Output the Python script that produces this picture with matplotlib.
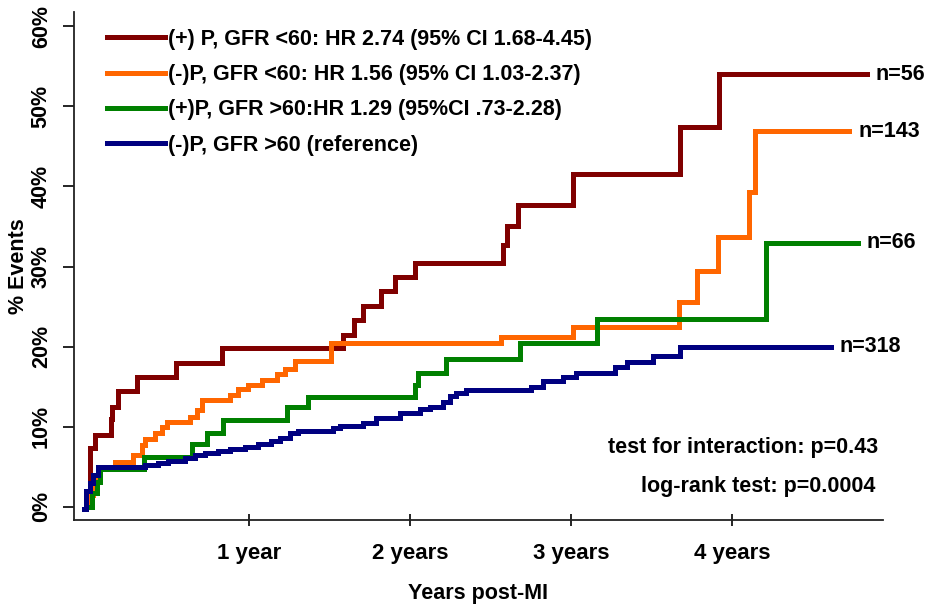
import matplotlib
matplotlib.use('Agg')
import matplotlib.pyplot as plt

plt.rcParams['font.family'] = ['Liberation Sans', 'DejaVu Sans']
plt.rcParams['font.weight'] = 'bold'

# step curves, time in years, cumulative events in %
red_t = [0.0, 0.01, 0.042, 0.142, 0.15, 0.185, 0.30, 0.545, 0.83, 1.584, 1.65, 1.71,
         1.82, 1.905, 2.03, 2.58, 2.60, 2.67, 3.01, 3.675, 3.92, 4.84]
red_y = [0.0, 7.3, 9.0, 11.0, 12.5, 14.4, 16.2, 17.9, 19.8, 21.5, 23.3, 25.1,
         26.9, 28.7, 30.4, 32.7, 35.1, 37.7, 41.6, 47.4, 54.0, 54.0]

orange_t = [0.0, 0.01, 0.03, 0.042, 0.073, 0.166, 0.28, 0.332, 0.352, 0.414, 0.456, 0.487,
            0.632, 0.673, 0.704, 0.88, 0.932, 0.994, 1.077, 1.17, 1.222, 1.284, 1.506,
            2.568, 3.012, 3.669, 3.783, 3.913, 4.11, 4.147, 4.731]
orange_y = [0.0, 1.5, 3.0, 3.75, 5.0, 5.6, 6.5, 7.7, 8.5, 9.2, 10.0, 10.6,
            11.25, 12.1, 13.3, 14.0, 14.7, 15.2, 15.8, 16.6, 17.2, 18.2, 20.4,
            21.25, 22.5, 25.6, 29.4, 33.75, 39.25, 46.9, 46.9]

green_t = [0.0, 0.021, 0.052, 0.073, 0.346, 0.642, 0.739, 0.839, 1.232, 1.366, 2.03, 2.05,
           2.226, 2.681, 3.164, 4.214, 4.783]
green_y = [0.0, 1.7, 3.1, 4.7, 6.25, 7.8, 9.2, 10.8, 12.4, 13.75, 15.2, 16.75,
           18.4, 20.5, 23.4, 33.0, 33.0]

blue_t = [-0.025, -0.014, 0.011, 0.029, 0.06, 0.352, 0.433, 0.495, 0.599, 0.661, 0.723,
          0.806, 0.878, 0.971, 1.054, 1.137, 1.189, 1.251, 1.302, 1.52, 1.563, 1.706,
          1.791, 1.936, 2.06, 2.122, 2.205, 2.247, 2.288, 2.35, 2.754, 2.826, 2.95,
          3.034, 3.271, 3.35, 3.509, 3.675, 4.617]
blue_y = [-0.3, 1.9, 3.0, 4.0, 5.0, 5.2, 5.5, 5.7, 6.05, 6.4, 6.7,
          6.96, 7.2, 7.5, 7.8, 8.2, 8.6, 9.2, 9.46, 9.8, 10.1, 10.4,
          11.05, 11.75, 12.2, 12.5, 13.1, 13.8, 14.25, 14.6, 15.0, 15.75, 16.25,
          16.75, 17.5, 18.1, 18.8, 20.0, 20.0]

labels = ['(+) P, GFR <60: HR 2.74 (95% CI 1.68-4.45)',
          '(-)P, GFR <60: HR 1.56 (95% CI 1.03-2.37)',
          '(+)P, GFR >60:HR 1.29 (95%CI .73-2.28)',
          '(-)P, GFR >60 (reference)']
n_labels = ['n=56', 'n=143', 'n=66', 'n=318']
colors = ['#800000', '#ff6600', '#008000', '#000080']

year_ticks = [1, 2, 3, 4]
year_labels = ['1 year', '2 years', '3 years', '4 years']
pct_ticks = [0, 10, 20, 30, 40, 50, 60]

fig = plt.figure(figsize=(9.33, 6.05), dpi=100)
ax = fig.add_axes([74/933, 1-520/605, (883-74)/933, (520-12)/605])

series = [(red_t, red_y), (orange_t, orange_y), (green_t, green_y), (blue_t, blue_y)]
for (t, y), c, lab, n in zip(series, colors, labels, n_labels):
    ax.step(t, y, where='post', color=c, lw=3.6, label=lab, solid_joinstyle='miter')
    ax.text(t[-1] + 0.055, y[-1], n, fontsize=15.5, fontweight='bold', va='center', ha='left')

ax.set_xlim(-0.089, 4.94)
ax.set_ylim(-1.67, 61.8)
ax.set_xticks(year_ticks)
ax.set_xticklabels(year_labels)
ax.set_yticks(pct_ticks)
ax.set_yticklabels([f'{p}%' for p in pct_ticks], rotation=90, va='center')
ax.tick_params(axis='x', direction='inout', length=9, width=1.2, labelsize=16, pad=12)
ax.tick_params(axis='y', direction='out', length=8, width=1.2, labelsize=15.5, pad=8)
for s in ['top', 'right']:
    ax.spines[s].set_visible(False)
for s in ['left', 'bottom']:
    ax.spines[s].set_linewidth(1.3)
    ax.spines[s].set_color('#222222')

ax.set_xlabel('Years post-MI', fontsize=15.5, fontweight='bold', labelpad=14)
ax.set_ylabel('% Events', fontsize=15.5, fontweight='bold', labelpad=1)

ax.legend(loc='upper left', bbox_to_anchor=(107/933, 1-29/605), bbox_transform=fig.transFigure,
          frameon=False, fontsize=15.5, handlelength=2.7, handletextpad=0.15,
          labelspacing=0.66, borderpad=0, borderaxespad=0)

ax.text(0.994, 0.142, 'test for interaction: p=0.43', transform=ax.transAxes,
        ha='right', va='center', fontsize=15.5, fontweight='bold')
ax.text(0.991, 0.065, 'log-rank test: p=0.0004', transform=ax.transAxes,
        ha='right', va='center', fontsize=15.5, fontweight='bold')

fig.savefig('out.png', dpi=100)
